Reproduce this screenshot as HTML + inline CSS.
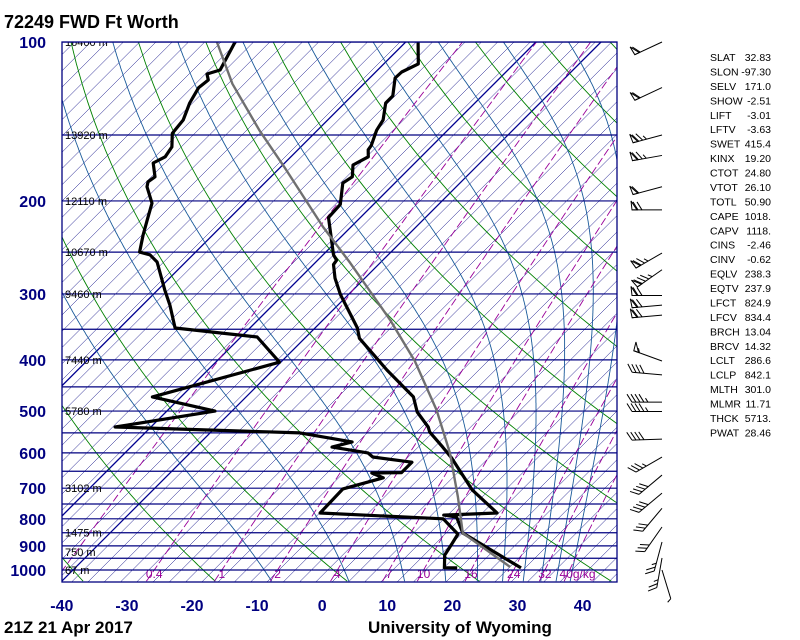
<!DOCTYPE html>
<html><head><meta charset="utf-8">
<style>
html,body{margin:0;padding:0;background:#fff;}
body{width:800px;height:640px;overflow:hidden;font-family:"Liberation Sans",sans-serif;}
svg{display:block;}
</style></head>
<body>
<svg id="chart" width="800" height="640" viewBox="0 0 800 640" xmlns="http://www.w3.org/2000/svg">
  <defs><clipPath id="plotclip"><rect x="62" y="42" width="555" height="540"/></clipPath></defs>
  <text x="4" y="28" font-size="18" font-weight="bold" fill="#000">72249 FWD Ft Worth</text>
  <g id="grid" clip-path="url(#plotclip)"></g>
  <g id="series" clip-path="url(#plotclip)"></g>
  <rect x="62" y="42" width="555" height="540" fill="none" stroke="#000080" stroke-width="1.3"/>
  <g id="axes"></g>
  <g id="barbs"></g>
  <g id="stats"></g>
  <text x="4" y="633" font-size="17" font-weight="bold" fill="#000">21Z 21 Apr 2017</text>
  <text x="368" y="633" font-size="17" font-weight="bold" fill="#000">University of Wyoming</text>
</svg>
<script>
// ---- data ----
const isobarLevels = [100,150,200,250,300,350,400,450,500,550,600,650,700,750,800,850,900,950,1000];
const pLabels = [100,200,300,400,500,600,700,800,900,1000];
const tLabels = [-40,-30,-20,-10,0,10,20,30,40];
const heightP = [100,150,200,250,300,400,500,700,850,925,1000];
const heightLabels = ["16400 m","13920 m","12110 m","10670 m","9460 m","7440 m","5780 m","3102 m","1475 m","750 m","67 m"];
const mixRatios = [0.1,0.4,1,2,4,7,10,16,24,32,40];
const mixLabels = ["","0.4","1","2","4","7","10","16","24","32","40g/kg"];
const tempP = [991,851,794,787,780,705,614,585,548,536,502,470,418,364,348,301,280,264,259,253,215,203,185,180,171,165,160,157,147,140.5,130.5,126.5,117,114,110,100];
const tempT = [28.5,14.2,10.8,8.5,16.4,9.0,1.0,-2.1,-6.4,-7.4,-11.4,-14.3,-22.5,-31.6,-33.5,-41.2,-44.6,-46.9,-47.1,-48.4,-54.9,-55.1,-58.0,-57.5,-59.2,-58.1,-59.2,-59.4,-60.9,-61.5,-63.7,-63.7,-66.1,-66.0,-64.7,-68.1];
const dewP = [991,990,937,893,855,800,780,702,669,655,654,625,611,600,585,572,550,536,500,470,404,362,348,315,295,261,253,250,232,217,202,188,184,180,169.5,165,158,149,140.5,130.5,127,122,118,115,113,100];
const dewT = [18.7,16.7,14.8,14.2,13.6,9.0,-10.8,-11.0,-6.5,-9.0,-4.5,-4.5,-11.3,-12.7,-19.1,-16.8,-26.2,-55.5,-42.6,-54.4,-40.2,-47.5,-61.5,-65.8,-68.9,-74.4,-76.6,-78.6,-80.7,-82.4,-84.2,-87.5,-88.1,-87.8,-90.2,-89.3,-89.8,-91.8,-92.2,-93.8,-94.2,-94.8,-94.5,-95.6,-94.2,-96.2];
const parcelP = [987,851,727,600,498,402,336,262,224,172,147,120,100];
const parcelT = [26.7,14.2,7.9,-0.1,-8.7,-19.6,-29.7,-44.6,-54.3,-69.6,-78.9,-90.2,-99.0];
const windP = [100,122,150,164,188,208,251,270,302,315,329,402,427,481,501,565,611,661,715,764,829,885,949,1000];
const windDir = [245,245,255,260,255,270,240,235,270,265,265,290,275,270,270,268,240,230,230,220,215,195,190,163];
const windSpd = [60,60,75,75,60,70,75,85,70,70,70,55,40,45,45,40,35,40,40,30,30,25,25,5];
const statNames = ["SLAT","SLON","SELV","SHOW","LIFT","LFTV","SWET","KINX","CTOT","VTOT","TOTL","CAPE","CAPV","CINS","CINV","EQLV","EQTV","LFCT","LFCV","BRCH","BRCV","LCLT","LCLP","MLTH","MLMR","THCK","PWAT"];
const statValues = ["32.83","-97.30","171.0","-2.51","-3.01","-3.63","415.4","19.20","24.80","26.10","50.90","1018.","1118.","-2.46","-0.62","238.3","237.9","824.9","834.4","13.04","14.32","286.6","842.1","301.0","11.71","5713.","28.46"];

// ---- axis functions ----
const NS = "http://www.w3.org/2000/svg";
function yP(p){ return 570 - 528*Math.log10(1000/p); }
function xTP(T,p){ return 62 + 6.51*(T+40) + (581 - yP(p)); }
function mk(tag, attrs, parent){ const e=document.createElementNS(NS,tag); for(const k in attrs) e.setAttribute(k,attrs[k]); parent.appendChild(e); return e; }
function pathFrom(pts){ return pts.map((q,i)=>(i?"L":"M")+q[0].toFixed(1)+" "+q[1].toFixed(1)).join(""); }
const grid=document.getElementById('grid'), series=document.getElementById('series'), axes=document.getElementById('axes'), barbs=document.getElementById('barbs'), stats=document.getElementById('stats');

// skewed thin grid lines (45 deg)
for(let x0=62-560; x0<640; x0+=65.1/4){
  const l=mk('line',{x1:x0,y1:582,x2:x0+540,y2:42,stroke:'#000080','stroke-width':0.5},grid);
  
  
}
// bold isotherms
[-70,-50,-40].forEach(T=>{
  const l=mk('line',{x1:xTP(T,1050),y1:yP(1050),x2:xTP(T,100),y2:yP(100),stroke:'#000090','stroke-width':1.3},grid);
  
  
});
// dry adiabats
for(let th=213.15; th<=600; th+=20){
  const pts=[]; for(let p=1050;p>=100;p-=10){ pts.push([xTP(th*Math.pow(p/1000,0.286)-273.15,p), yP(p)]); }
  const e=mk('path',{d:pathFrom(pts),fill:'none',stroke:'#008000','stroke-width':0.9},grid);
  
  
}
// moist adiabats
function es(Tc){ return 6.112*Math.exp(17.67*Tc/(Tc+243.5)); }
for(let T100=-135; T100<=-45; T100+=10){
  let T=T100+273.15; const pts=[[xTP(T100,100),yP(100)]];
  for(let p=100;p<1050;p+=1){
    const e_=es(T-273.15), rs=0.622*e_/(p-e_);
    const g=(287*T+2.5e6*rs)/(p*(1005+2.5e6*2.5e6*rs*0.622/(287*T*T)));
    T+=g*1; pts.push([xTP(T-273.15,p+1),yP(p+1)]);
  }
  const e=mk('path',{d:pathFrom(pts),fill:'none',stroke:'#1a5a9a','stroke-width':0.9},grid);
  
  
}
// mixing ratio lines
function tdFromW(w,p){ const e=w*p/(622+w); const L=Math.log(e/6.112); return 243.5*L/(17.67-L); }
mixRatios.forEach((w,i)=>{
  const pts=[]; for(let p=1050;p>=100;p-=10) pts.push([xTP(tdFromW(w,p),p),yP(p)]);
  const e=mk('path',{d:pathFrom(pts),fill:'none',stroke:'#990099','stroke-width':0.9,'stroke-dasharray':'8 3'},grid);
  
  
  if(mixLabels[i]){
    const t=mk('text',{x:xTP(tdFromW(w,1000),1000)+(i==mixLabels.length-1?8:0),y:578,'font-size':12,fill:'#990099','text-anchor':'middle'},grid);
    t.textContent=mixLabels[i];
    
    
  }
});
// isobars
isobarLevels.forEach(p=>{
  const l=mk('line',{x1:62,x2:617,y1:yP(p),y2:yP(p),stroke:'#000080','stroke-width':1.2},grid);
  
  
});
// height labels
heightP.forEach((p,i)=>{
  const t=mk('text',{x:65,y:yP(p)+4,'font-size':11,fill:'#000'},grid);
  t.textContent=heightLabels[i];
  
  
});
// series
function drawSeries(P,T,color,w,name){
  const pts=P.map((p,i)=>[xTP(T[i],p),yP(p)]);
  const e=mk('path',{d:pathFrom(pts),fill:'none',stroke:color,'stroke-width':w,'stroke-linejoin':'round'},series);
  
  
}
drawSeries(dewP,dewT,'#000',3.2,'dewpoint-line');
drawSeries(tempP,tempT,'#000',3.2,'temperature-line');
drawSeries(parcelP,parcelT,'#707070',2.4,'parcel-line');
// axis labels
pLabels.forEach(p=>{
  const t=mk('text',{x:46,y:yP(p)+6,'font-size':16,'font-weight':'bold',fill:'#000080','text-anchor':'end'},axes);
  t.textContent=String(p);
  
  
});
tLabels.forEach(T=>{
  const t=mk('text',{x:xTP(T,1050),y:611,'font-size':16,'font-weight':'bold',fill:'#000080','text-anchor':'middle'},axes);
  t.textContent=String(T);
  
  
});
// wind barbs
windP.forEach((p,i)=>{
  const bx=662, by=yP(p), d=windDir[i]*Math.PI/180, L=30;
  const ux=Math.sin(d), uy=-Math.cos(d), px=-uy, py=ux;
  const ex=bx+L*ux, ey=by+L*uy;
  const g=mk('g',{},barbs);
  
  
  mk('line',{x1:bx,y1:by,x2:ex,y2:ey,stroke:'#000','stroke-width':1},g);
  let s=windSpd[i], pos=0;
  const nP=Math.floor(s/50); s-=nP*50; const nF=Math.floor(s/10); s-=nF*10; const nH=s>=5?1:0;
  for(let k=0;k<nP;k++){
    const ax=ex-ux*pos, ay=ey-uy*pos, cx=ex-ux*(pos+5), cy=ey-uy*(pos+5);
    mk('path',{d:`M${ax} ${ay}L${ax+px*9+ux*1} ${ay+py*9+uy*1}L${cx} ${cy}Z`,fill:'none',stroke:'#000','stroke-width':1},g);
    pos+=6;
  }
  for(let k=0;k<nF;k++){
    const ax=ex-ux*pos, ay=ey-uy*pos;
    mk('line',{x1:ax,y1:ay,x2:ax+px*8+ux*5,y2:ay+py*8+uy*5,stroke:'#000','stroke-width':1},g);
    pos+=4;
  }
  for(let k=0;k<nH;k++){
    const ax=ex-ux*pos, ay=ey-uy*pos;
    mk('line',{x1:ax,y1:ay,x2:ax+px*4+ux*2.5,y2:ay+py*4+uy*2.5,stroke:'#000','stroke-width':1},g);
  }
});
// stats
statNames.forEach((n,i)=>{
  const y=61+i*14.44;
  const a=mk('text',{x:710,y:y,'font-size':10.5,fill:'#000'},stats);
  a.textContent=n;
  
  
  const b=mk('text',{x:771,y:y,'font-size':10.5,fill:'#000','text-anchor':'end'},stats);
  b.textContent=statValues[i];
  
  
});
</script>
</body></html>
